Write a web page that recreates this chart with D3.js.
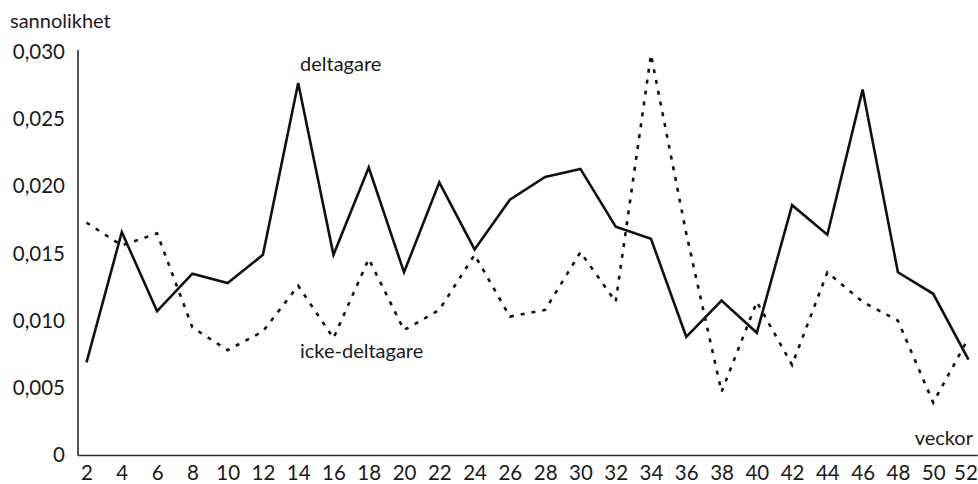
<!DOCTYPE html>
<html>
<head>
<meta charset="utf-8">
<script src="https://cdn.jsdelivr.net/npm/d3@7"></script>
<style>
  body { margin: 0; background: #fff; }
  text { font-family: Lato, "Open Sans", sans-serif; fill: #1a1a1a; }
</style>
</head>
<body>
<div id="chart"></div>
<script>
var weeks = [2,4,6,8,10,12,14,16,18,20,22,24,26,28,30,32,34,36,38,40,42,44,46,48,50,52];
var deltagare = [0.0069,0.0166,0.0107,0.0135,0.0128,0.0149,0.0277,0.0149,0.0214,0.0136,0.0203,0.0153,0.0190,0.0207,0.0213,0.0170,0.0161,0.0088,0.0115,0.0091,0.0186,0.0164,0.0272,0.0136,0.0120,0.0071];
var ickeDeltagare = [0.0173,0.0156,0.0165,0.0095,0.0078,0.0092,0.0126,0.0087,0.0146,0.0093,0.0108,0.0149,0.0103,0.0108,0.0151,0.0114,0.0298,0.0165,0.0047,0.0114,0.0067,0.0136,0.0114,0.0100,0.0039,0.0087];
var yTicks = [0,0.005,0.010,0.015,0.020,0.025,0.030];
var yTickLabels = ["0","0,005","0,010","0,015","0,020","0,025","0,030"];

var svgWidth = 978;
var svgHeight = 484;

var svg = d3.select("#chart").append("svg").attr("width", svgWidth).attr("height", svgHeight);

var x = d3.scaleLinear().domain([1.5, 52.5]).range([77.7, 977.3]);
var y = d3.scaleLinear().domain([0, 0.030]).range([455, 52]);

// axes, no tick marks
var xAxis = svg.append("g").attr("transform", "translate(0,455)")
	.call(d3.axisBottom(x).tickValues(weeks).tickSize(0).tickSizeOuter(0).tickPadding(10));
var yAxis = svg.append("g").attr("transform", "translate(78,0)")
	.call(d3.axisLeft(y).tickValues(yTicks).tickSize(0).tickSizeOuter(0).tickPadding(13)
		.tickFormat(function(d, i) { return yTickLabels[i]; }));

[xAxis, yAxis].forEach(function(a) {
	a.select(".domain").attr("stroke", "#2a2a2a").attr("stroke-width", 1.6);
	a.selectAll("text").style("font-size", "20.5px").attr("fill", "#1a1a1a");
});
yAxis.select(".domain").attr("d", "M0,50V455.5");
// keep the last week label inside the picture
xAxis.selectAll(".tick text").filter(function(d) { return d === 52; }).attr("dx", "-3");

var line = d3.line().x(function(d, i) { return x(weeks[i]); }).y(function(d) { return y(d); });

svg.append("path").datum(ickeDeltagare).attr("d", line)
	.attr("fill", "none").attr("stroke", "#111").attr("stroke-width", 2.6)
	.attr("stroke-dasharray", "4,7");

svg.append("path").datum(deltagare).attr("d", line)
	.attr("fill", "none").attr("stroke", "#111").attr("stroke-width", 2.6)
	.attr("stroke-linejoin", "miter");

// labels
svg.append("text").attr("x", 10).attr("y", 28).style("font-size", "20px").text("sannolikhet");
svg.append("text").attr("x", 300).attr("y", 71).style("font-size", "20px").text("deltagare");
svg.append("text").attr("x", 300).attr("y", 358).style("font-size", "20px").text("icke-deltagare");
svg.append("text").attr("x", 973).attr("y", 445).attr("text-anchor", "end").style("font-size", "20px").text("veckor");
</script>
</body>
</html>
